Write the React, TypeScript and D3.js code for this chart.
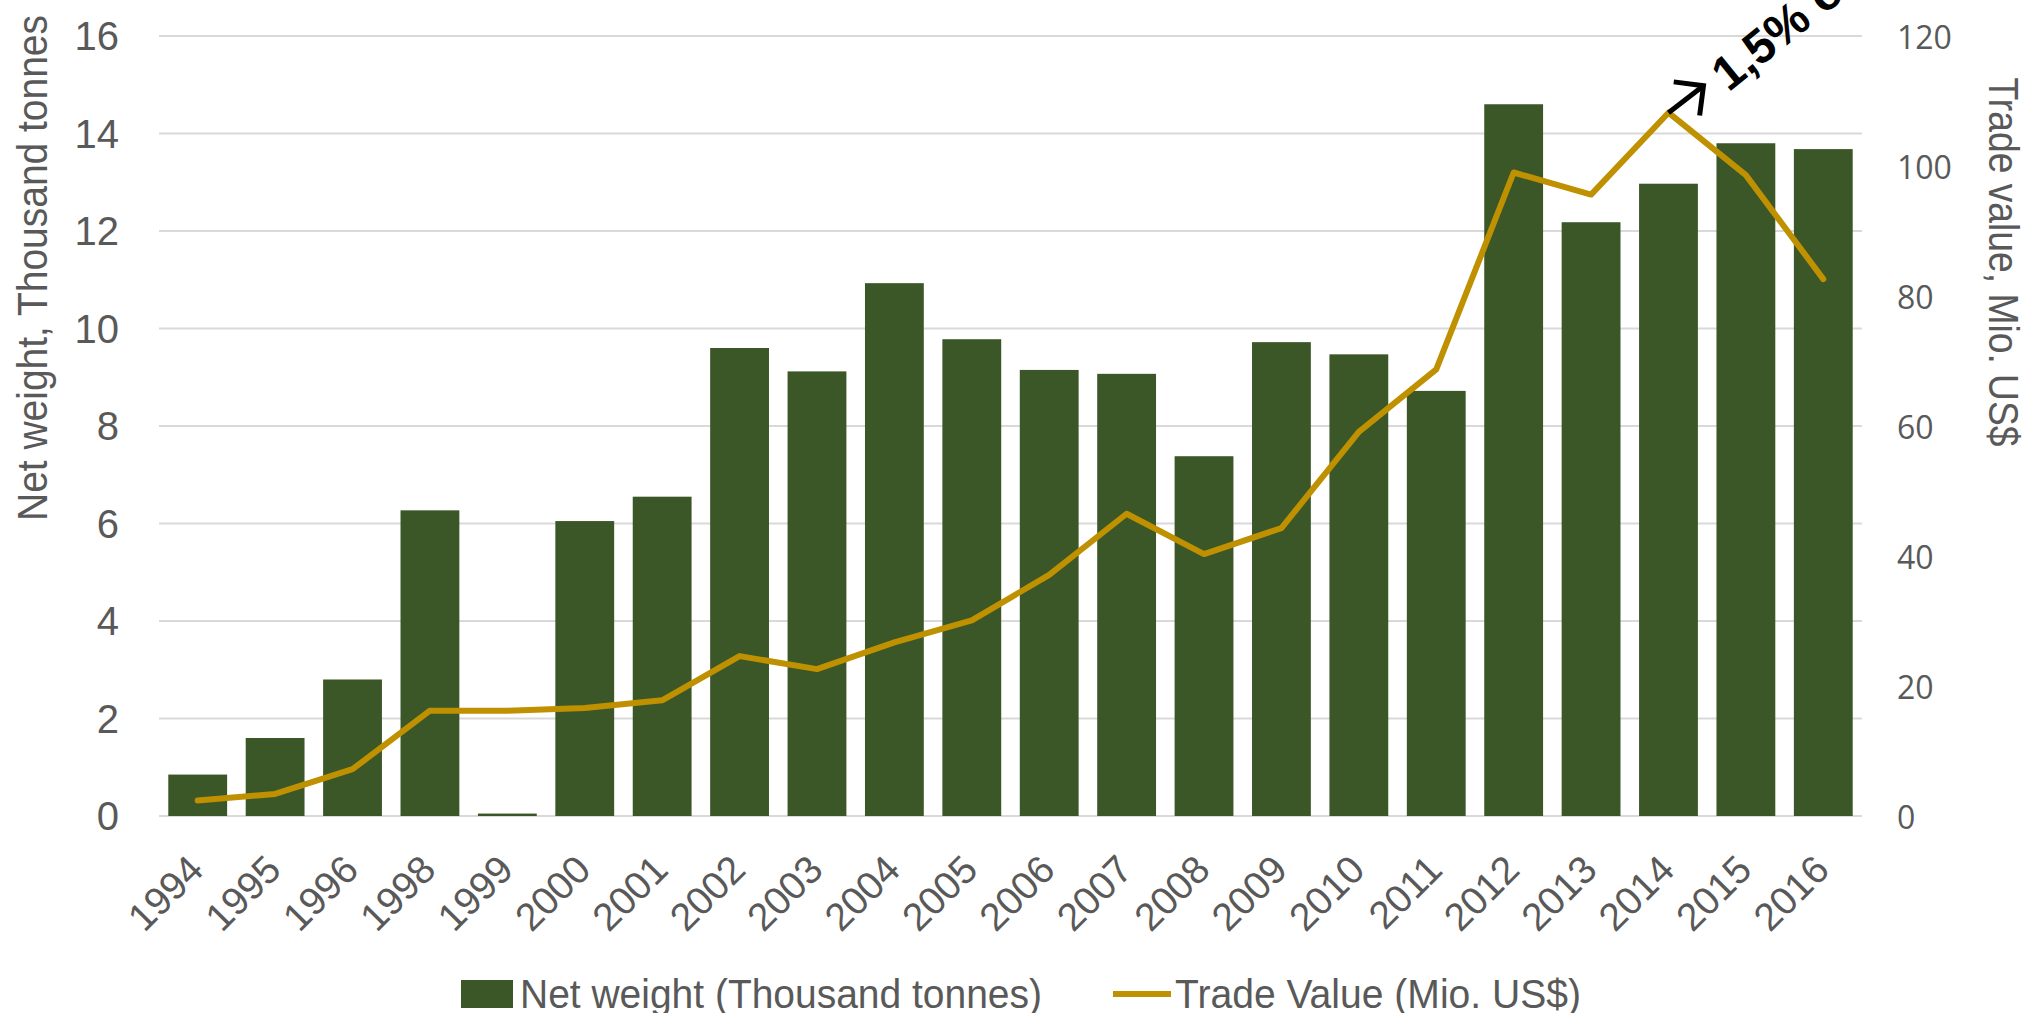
import React, { useRef, useLayoutEffect } from 'react'
import { select, scaleBand, scaleLinear, axisBottom, line } from 'd3'

const years = ['1994', '1995', '1996', '1998', '1999', '2000', '2001', '2002', '2003', '2004', '2005',
  '2006', '2007', '2008', '2009', '2010', '2011', '2012', '2013', '2014', '2015', '2016']
// thousand tonnes, left axis
const netWeight = [0.85, 1.6, 2.8, 6.27, 0.05, 6.05, 6.55, 9.6, 9.12, 10.93, 9.78,
  9.15, 9.07, 7.38, 9.72, 9.47, 8.72, 14.6, 12.18, 12.97, 13.8, 13.68]
// Mio. US$, right axis
const tradeValue = [2.4, 3.4, 7.2, 16.2, 16.2, 16.6, 17.8, 24.6, 22.6, 26.7, 30.1,
  37.1, 46.5, 40.3, 44.3, 59.1, 68.7, 99.0, 95.6, 108.2, 98.6, 82.6]
const leftTicks = [0, 2, 4, 6, 8, 10, 12, 14, 16]
const rightTicks = [0, 20, 40, 60, 80, 100, 120]
const legendLabels = ['Net weight (Thousand tonnes)', 'Trade Value (Mio. US$)']
const note = '1,5% of world exports'
const noteYear = '2014'

const W = 2029, H = 1013
const green = '#3B5727'
const gold = '#BF9000'
const grey = '#595959'
const narrow = "'Liberation Sans Narrow', 'Arial Narrow', sans-serif"

export default function App () {
  const ref = useRef<SVGSVGElement>(null)

  useLayoutEffect(() => {
    if (ref.current === null) return
    const svg = select(ref.current)
    svg.selectAll('*').remove()

    const x = scaleBand().domain(years).range([159, 1862]).paddingInner(0.24).paddingOuter(0.12)
    const yL = scaleLinear().domain([0, 16]).range([816, 36])
    const yR = scaleLinear().domain([0, 120]).range([816, 36])
    const cx = (d: string) => (x(d) as number) + x.bandwidth() / 2

    // grid
    svg.append('g').selectAll('line').data(leftTicks).join('line')
      .attr('x1', 159).attr('x2', 1862)
      .attr('y1', d => yL(d)).attr('y2', d => yL(d))
      .attr('stroke', '#D9D9D9').attr('stroke-width', 2)

    // left ticks
    svg.append('g').selectAll('text').data(leftTicks).join('text')
      .attr('x', 119).attr('y', d => yL(d))
      .attr('text-anchor', 'end').attr('dominant-baseline', 'central')
      .attr('font-family', narrow).attr('font-size', 40).attr('fill', grey)
      .text(d => d)

    // right ticks
    svg.append('g').selectAll('text').data(rightTicks).join('text')
      .attr('x', 1897).attr('y', d => yR(d))
      .attr('dominant-baseline', 'central')
      .attr('font-family', "'Open Sans', sans-serif").attr('font-size', 32).attr('fill', grey)
      .text(d => d)

    // bars
    svg.append('g').selectAll('rect').data(netWeight).join('rect')
      .attr('x', (d, i) => x(years[i]) as number)
      .attr('y', d => yL(d))
      .attr('width', x.bandwidth())
      .attr('height', d => yL(0) - yL(d))
      .attr('fill', green)

    // line
    const tradeLine = line<number>().x((d, i) => cx(years[i])).y(d => yR(d))
    svg.append('path').datum(tradeValue)
      .attr('d', tradeLine)
      .attr('fill', 'none').attr('stroke', gold).attr('stroke-width', 6)
      .attr('stroke-linejoin', 'round').attr('stroke-linecap', 'round')

    // x axis labels
    const xAxis = axisBottom(x).tickSize(0).tickPadding(0)
    const ax = svg.append('g').attr('transform', 'translate(0,832)').call(xAxis)
    ax.select('.domain').remove()
    ax.selectAll('text')
      .attr('font-family', narrow).attr('font-size', 39).attr('fill', grey)
      .attr('text-anchor', 'end').attr('dy', null).attr('y', 0)
      .attr('transform', 'translate(8,40) rotate(-45)')

    // annotation arrow
    const i14 = years.indexOf(noteYear)
    const px = cx(noteYear), py = yR(tradeValue[i14])
    const tipX = px + 35, tipY = py - 27
    const ang = Math.atan2(tipY - py, tipX - px)
    const head = 30
    const arm = (s: number) => [tipX - head * Math.cos(ang + s), tipY - head * Math.sin(ang + s)]
    const a1 = arm(Math.PI / 4), a2 = arm(-Math.PI / 4)
    svg.append('line')
      .attr('x1', px).attr('y1', py).attr('x2', tipX).attr('y2', tipY)
      .attr('stroke', '#000').attr('stroke-width', 5)
    svg.append('polyline')
      .attr('points', `${a1[0]},${a1[1]} ${tipX},${tipY} ${a2[0]},${a2[1]}`)
      .attr('fill', 'none').attr('stroke', '#000').attr('stroke-width', 5)
      .attr('stroke-linejoin', 'miter')
    svg.append('text')
      .attr('transform', `translate(${px + 60},${py - 20}) rotate(-39)`)
      .attr('font-family', "'Liberation Sans', sans-serif").attr('font-weight', 'bold')
      .attr('font-size', 48).attr('fill', '#000')
      .text(note)

    // axis titles
    svg.append('text')
      .attr('transform', 'translate(32,268) rotate(-90)')
      .attr('text-anchor', 'middle').attr('dominant-baseline', 'central')
      .attr('font-family', narrow).attr('font-size', 42).attr('fill', grey)
      .attr('textLength', 506).attr('lengthAdjust', 'spacingAndGlyphs')
      .text('Net weight, Thousand tonnes')
    svg.append('text')
      .attr('transform', 'translate(2003,262) rotate(90)')
      .attr('text-anchor', 'middle').attr('dominant-baseline', 'central')
      .attr('font-family', narrow).attr('font-size', 42).attr('fill', grey)
      .attr('textLength', 369).attr('lengthAdjust', 'spacingAndGlyphs')
      .text('Trade value, Mio. US$')

    // legend
    const lg = svg.append('g')
    lg.append('rect').attr('x', 461).attr('y', 980).attr('width', 52).attr('height', 28).attr('fill', green)
    lg.append('text').attr('x', 520).attr('y', 994).attr('dominant-baseline', 'central')
      .attr('font-family', narrow).attr('font-size', 40).attr('fill', grey)
      .attr('textLength', 522).attr('lengthAdjust', 'spacingAndGlyphs')
      .text(legendLabels[0])
    lg.append('line').attr('x1', 1113).attr('x2', 1171).attr('y1', 994).attr('y2', 994)
      .attr('stroke', gold).attr('stroke-width', 6)
    lg.append('text').attr('x', 1175).attr('y', 994).attr('dominant-baseline', 'central')
      .attr('font-family', narrow).attr('font-size', 40).attr('fill', grey)
      .attr('textLength', 406).attr('lengthAdjust', 'spacingAndGlyphs')
      .text(legendLabels[1])
  }, [])

  return <svg ref={ref} width={W} height={H}
    style={{ position: 'absolute', left: 0, top: 0, background: '#fff' }} />
}
